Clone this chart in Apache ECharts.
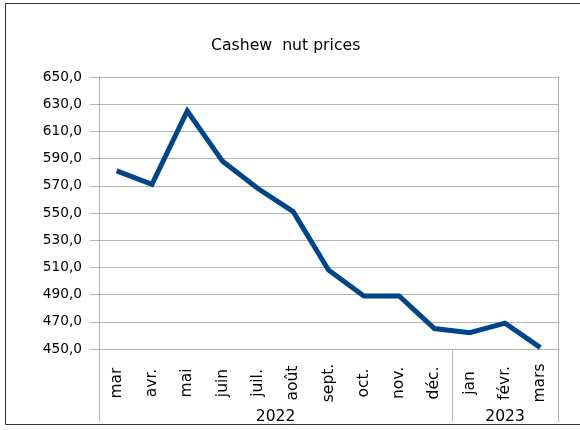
<!DOCTYPE html>
<html>
	<head>
		<meta charset="UTF-8">
		<title>Cashew nut prices</title>
		<style>
			html, body { margin: 0; padding: 0; background: #fff; }
			#main { width: 580px; height: 430px; }
		</style>
	</head>
	<script src="https://cdn.jsdelivr.net/npm/echarts@6.0.0/dist/echarts.min.js"></script>
	<body>
		<div id="main"></div>
	</body>
	<script>
		// data
		var months = ['mar', 'avr.', 'mai', 'juin', 'juil.', 'août', 'sept.', 'oct.', 'nov.', 'déc.', 'jan', 'févr.', 'mars']
		var prices = [581, 571, 625, 588, 568, 551, 508, 489, 489, 465, 462, 469, 451]
		var years = ['2022', '2023']
		var yearMonths = [10, 3]

		// boundaries and centres of the year groups, in category units
		var bounds = [0]
		var centres = []
		yearMonths.forEach(function (n) {
			var start = bounds[bounds.length - 1]
			centres.push(start + n / 2)
			bounds.push(start + n)
		})

		var font = 'DejaVu Sans'
		var gray = '#b3b3b3'

		var myChart = echarts.init(document.getElementById('main'))

		var option = {
			animation: false,
			title: {
				text: 'Cashew  nut prices',
				left: 211,
				top: 38,
				padding: 0,
				textStyle: { fontFamily: font, fontSize: 15.7, fontWeight: 'normal', color: '#000' }
			},
			grid: { left: 99, right: 22, top: 77, bottom: 81, containLabel: false },
			xAxis: [{
				type: 'category',
				data: months,
				boundaryGap: true,
				axisLine: { lineStyle: { color: gray } },
				axisTick: { interval: 0, length: 49, lineStyle: { color: gray } },
				axisLabel: {
					interval: 0, rotate: 90, align: 'center', verticalAlign: 'middle', margin: 34,
					fontFamily: font, fontSize: 15.5, color: '#000'
				}
			}, {
				type: 'value',
				position: 'bottom',
				min: 0,
				max: months.length,
				axisLine: { show: false },
				splitLine: { show: false },
				axisTick: { show: true, length: 73, customValues: bounds, lineStyle: { color: gray } },
				axisLabel: {
					customValues: centres, margin: 68, verticalAlign: 'middle',
					fontFamily: font, fontSize: 15.5, color: '#000',
					formatter: function (v) {
						var i = centres.indexOf(v)
						return i >= 0 ? years[i] : ''
					}
				}
			}],
			yAxis: [{
				type: 'value',
				min: 450,
				max: 650,
				interval: 20,
				axisLine: { show: true, lineStyle: { color: gray } },
				axisTick: { show: true, length: 9, lineStyle: { color: gray } },
				splitLine: { lineStyle: { color: gray } },
				axisLabel: {
					margin: 17, fontFamily: font, fontSize: 13.7, color: '#000',
					formatter: function (v) { return v.toFixed(1).replace('.', ',') }
				}
			}, {
				type: 'value',
				position: 'right',
				min: 450,
				max: 650,
				interval: 20,
				axisLine: { show: true, lineStyle: { color: gray } },
				axisTick: { show: false },
				axisLabel: { show: false },
				splitLine: { show: false }
			}],
			series: [{
				type: 'line',
				data: prices,
				xAxisIndex: 0,
				yAxisIndex: 0,
				symbol: 'none',
				lineStyle: { color: '#004586', width: 5, join: 'miter' }
			}],
			graphic: [{
				type: 'rect',
				shape: { x: 5.5, y: 3.5, width: 600, height: 421 },
				style: { fill: null, stroke: '#333', lineWidth: 1 },
				silent: true
			}]
		}

		myChart.setOption(option)
	</script>
</html>
